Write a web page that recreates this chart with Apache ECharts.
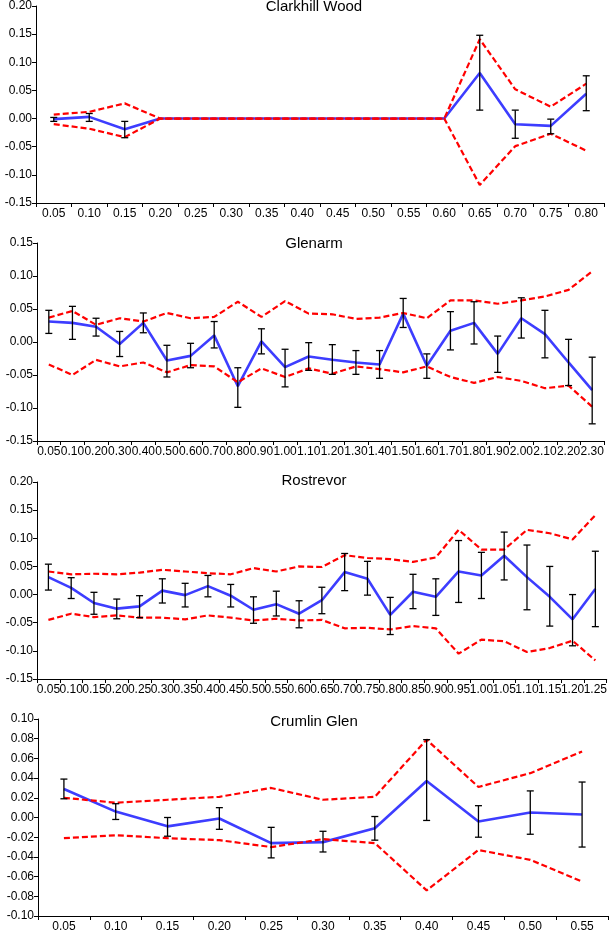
<!DOCTYPE html>
<html>
<head>
<meta charset="utf-8">
<script src="https://cdn.jsdelivr.net/npm/echarts@6/dist/echarts.min.js"></script>
<style>html,body{margin:0;padding:0;background:#fff}#c{width:610px;height:933px}</style>
</head>
<body>
<div id="c"></div>
<script>
// ---------- Clarkhill Wood ----------
const clarkCats = ['0.05','0.10','0.15','0.20','0.25','0.30','0.35','0.40','0.45','0.50','0.55','0.60','0.65','0.70','0.75','0.80'];
const clarkMean = [-0.001,0.003,-0.019,0,0,0,0,0,0,0,0,0,0.081,-0.010,-0.013,0.044];
const clarkUpper = [0.007,0.012,0.027,0,0,0,0,0,0,0,0,0,0.141,0.052,0.021,0.062];
const clarkLower = [-0.010,-0.018,-0.033,0,0,0,0,0,0,0,0,0,-0.118,-0.049,-0.027,-0.057];
const clarkErrLow = [-0.005,-0.005,-0.034,null,null,null,null,null,null,null,null,null,0.015,-0.035,-0.027,0.014];
const clarkErrHigh = [0.002,0.009,-0.005,null,null,null,null,null,null,null,null,null,0.148,0.015,-0.001,0.076];

// ---------- Glenarm ----------
const glenCats = ['0.05','0.10','0.20','0.30','0.40','0.50','0.60','0.70','0.80','0.90','1.00','1.10','1.20','1.30','1.40','1.50','1.60','1.70','1.80','1.90','2.00','2.10','2.20','2.30'];
const glenMean = [0.031,0.029,0.023,-0.003,0.029,-0.028,-0.021,0.010,-0.067,0.001,-0.038,-0.022,-0.027,-0.031,-0.034,0.043,-0.036,0.017,0.029,-0.018,0.036,0.012,-0.031,-0.073];
const glenUpper = [0.037,0.047,0.026,0.036,0.031,0.044,0.036,0.038,0.061,0.038,0.062,0.043,0.042,0.035,0.037,0.044,0.036,0.063,0.063,0.058,0.063,0.069,0.079,0.107];
const glenLower = [-0.034,-0.050,-0.027,-0.037,-0.031,-0.046,-0.035,-0.037,-0.061,-0.040,-0.053,-0.040,-0.048,-0.037,-0.041,-0.046,-0.037,-0.053,-0.062,-0.053,-0.059,-0.070,-0.066,-0.098];
const glenErrLow = [0.013,0.004,0.009,-0.022,0.014,-0.053,-0.039,-0.009,-0.099,-0.018,-0.068,-0.043,-0.049,-0.049,-0.055,0.022,-0.055,-0.012,-0.003,-0.046,0.006,-0.024,-0.066,-0.124];
const glenErrHigh = [0.048,0.054,0.036,0.016,0.044,-0.005,-0.002,0.031,-0.039,0.020,-0.011,-0.001,-0.004,-0.013,-0.013,0.066,-0.018,0.046,0.061,0.009,0.067,0.048,0.004,-0.023];

// ---------- Rostrevor ----------
const rostCats = ['0.05','0.10','0.15','0.20','0.25','0.30','0.35','0.40','0.45','0.50','0.55','0.60','0.65','0.70','0.75','0.80','0.85','0.90','0.95','1.00','1.05','1.10','1.15','1.20','1.25'];
const rostMean = [0.031,0.012,-0.015,-0.025,-0.021,0.007,-0.001,0.015,-0.002,-0.027,-0.017,-0.034,-0.010,0.040,0.028,-0.036,0.005,-0.004,0.041,0.034,0.069,0.031,-0.004,-0.044,0.010];
const rostUpper = [0.041,0.036,0.037,0.036,0.039,0.044,0.041,0.038,0.036,0.047,0.041,0.050,0.049,0.070,0.065,0.063,0.058,0.066,0.115,0.080,0.080,0.115,0.109,0.098,0.141];
const rostLower = [-0.045,-0.034,-0.040,-0.037,-0.041,-0.041,-0.044,-0.037,-0.041,-0.046,-0.043,-0.046,-0.045,-0.060,-0.059,-0.062,-0.056,-0.060,-0.105,-0.080,-0.083,-0.102,-0.095,-0.082,-0.117];
const rostErrLow = [0.008,-0.007,-0.035,-0.043,-0.041,-0.015,-0.022,-0.004,-0.022,-0.051,-0.038,-0.059,-0.034,0.007,-0.001,-0.071,-0.025,-0.037,-0.014,-0.007,0.026,-0.027,-0.056,-0.091,-0.057];
const rostErrHigh = [0.054,0.030,0.004,-0.008,-0.002,0.028,0.020,0.034,0.018,-0.004,0.006,-0.011,0.013,0.073,0.059,-0.005,0.036,0.028,0.096,0.075,0.111,0.088,0.050,0.000,0.077];

// ---------- Crumlin Glen ----------
const crumCats = ['0.05','0.10','0.15','0.20','0.25','0.30','0.35','0.40','0.45','0.50','0.55'];
const crumMean = [0.029,0.006,-0.009,-0.001,-0.026,-0.025,-0.011,0.037,-0.004,0.005,0.003];
const crumUpper = [0.020,0.015,0.018,0.021,0.030,0.018,0.021,0.079,0.031,0.045,0.067];
const crumLower = [-0.021,-0.018,-0.021,-0.023,-0.030,-0.022,-0.026,-0.074,-0.033,-0.043,-0.065];
const crumErrLow = [0.019,-0.002,-0.019,-0.012,-0.041,-0.035,-0.023,-0.003,-0.020,-0.017,-0.030];
const crumErrHigh = [0.039,0.014,0.000,0.010,-0.010,-0.014,0.001,0.079,0.012,0.027,0.036];

const panels = [
  {title:'Clarkhill Wood', cats:clarkCats, mean:clarkMean, up:clarkUpper, lo:clarkLower, eL:clarkErrLow, eH:clarkErrHigh, min:-0.15, max:0.20, step:0.05, grid:{left:36,right:6,top:6,height:197}, ty:7},
  {title:'Glenarm', cats:glenCats, mean:glenMean, up:glenUpper, lo:glenLower, eL:glenErrLow, eH:glenErrHigh, min:-0.15, max:0.15, step:0.05, grid:{left:37,right:6,top:243,height:198}, ty:244},
  {title:'Rostrevor', cats:rostCats, mean:rostMean, up:rostUpper, lo:rostLower, eL:rostErrLow, eH:rostErrHigh, min:-0.15, max:0.20, step:0.05, grid:{left:37,right:2,top:482,height:197}, ty:481},
  {title:'Crumlin Glen', cats:crumCats, mean:crumMean, up:crumUpper, lo:crumLower, eL:crumErrLow, eH:crumErrHigh, min:-0.10, max:0.10, step:0.02, grid:{left:38,right:2,top:719,height:198}, ty:722}
];

const FONT = 'Arial, "Liberation Sans", sans-serif';
const grids = [], xAxes = [], yAxes = [], series = [], graphics = [];

function errRender(params, api) {
  const x = api.value(0), lo = api.value(1), hi = api.value(2);
  const a = api.coord([x, hi]), b = api.coord([x, lo]);
  const w = 3.5;
  const st = {stroke:'#000', lineWidth:1.3};
  return {type:'group', children:[
    {type:'line', shape:{x1:a[0], y1:a[1], x2:b[0], y2:b[1]}, style:st},
    {type:'line', shape:{x1:a[0]-w, y1:a[1], x2:a[0]+w, y2:a[1]}, style:st},
    {type:'line', shape:{x1:b[0]-w, y1:b[1], x2:b[0]+w, y2:b[1]}, style:st}
  ]};
}

panels.forEach((p, i) => {
  grids.push(Object.assign({containLabel:false}, p.grid));
  xAxes.push({
    type:'category', gridIndex:i, data:p.cats, boundaryGap:true,
    axisLine:{onZero:false, lineStyle:{color:'#000', width:1}},
    axisTick:{show:true, interval:0, alignWithLabel:false, length:4, lineStyle:{color:'#000'}},
    axisLabel:{interval:0, color:'#000', fontSize:12, fontFamily:FONT, margin:5, hideOverlap:false},
    splitLine:{show:false}
  });
  yAxes.push({
    type:'value', gridIndex:i, min:p.min, max:p.max, interval:p.step,
    axisLine:{show:true, lineStyle:{color:'#000', width:1}},
    axisTick:{show:true, length:4, lineStyle:{color:'#000'}},
    axisLabel:{color:'#000', fontSize:12, fontFamily:FONT, margin:4, formatter:v => v.toFixed(2)},
    splitLine:{show:false}
  });
  series.push({
    name:p.title+' mean', type:'line', xAxisIndex:i, yAxisIndex:i, data:p.mean,
    symbol:'none', z:2, lineStyle:{color:'#3d3dff', width:2.6}, itemStyle:{color:'#3d3dff'}
  });
  series.push({
    name:p.title+' upper', type:'line', xAxisIndex:i, yAxisIndex:i, data:p.up,
    symbol:'none', z:3, lineStyle:{color:'#ff0000', width:2.2, type:[6,3]}
  });
  series.push({
    name:p.title+' lower', type:'line', xAxisIndex:i, yAxisIndex:i, data:p.lo,
    symbol:'none', z:3, lineStyle:{color:'#ff0000', width:2.2, type:[6,3]}
  });
  const ed = [];
  p.cats.forEach((c, k) => { if (p.eL[k] !== null && p.eH[k] !== null) ed.push([k, p.eL[k], p.eH[k]]); });
  series.push({
    name:p.title+' error', type:'custom', xAxisIndex:i, yAxisIndex:i, data:ed, z:4,
    renderItem:errRender, encode:{x:0, y:[1,2]}
  });
  graphics.push({type:'text', x:314, y:p.ty, z:10, style:{text:p.title, font:'15px '+FONT, fill:'#000', textAlign:'center', textVerticalAlign:'middle'}});
});

const chart = echarts.init(document.getElementById('c'), null, {renderer:'canvas'});
chart.setOption({
  animation:false,
  backgroundColor:'#fff',
  grid:grids, xAxis:xAxes, yAxis:yAxes, series:series,
  visualMap:[{type:'piecewise', show:false, dimension:0, seriesIndex:0,
    pieces:[{gte:3, lte:11, color:'#ff0000'}], outOfRange:{color:'#3d3dff'}}],
  graphic:graphics
});
</script>
</body>
</html>
